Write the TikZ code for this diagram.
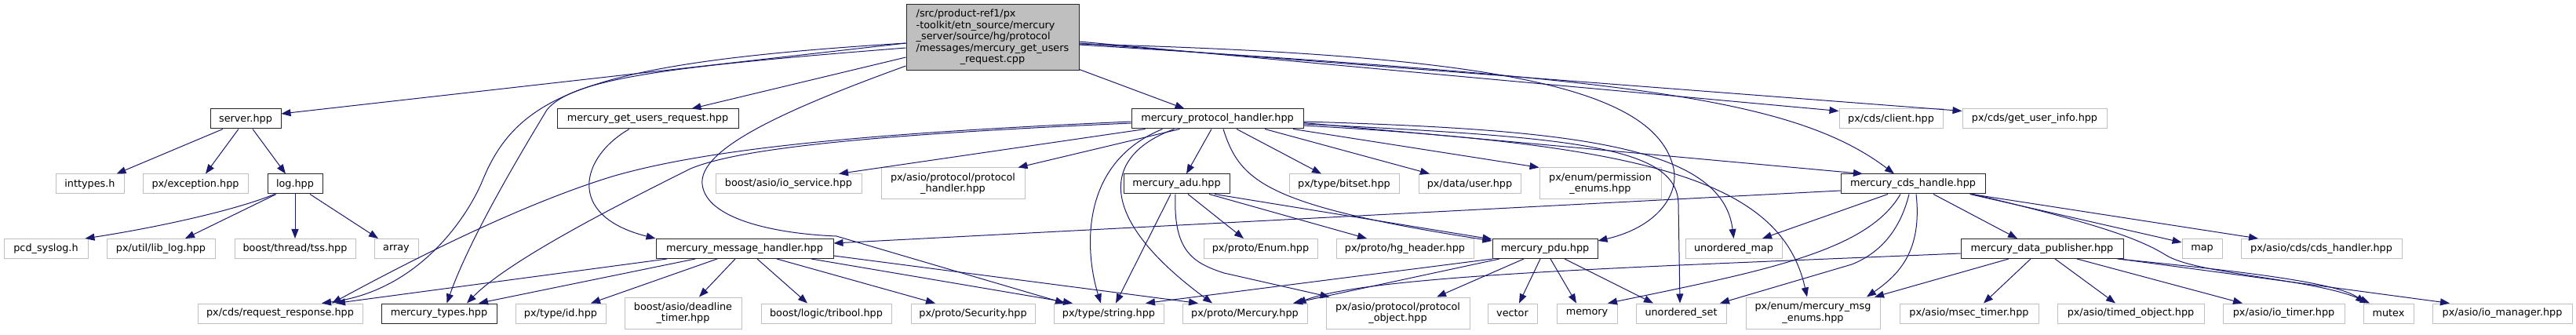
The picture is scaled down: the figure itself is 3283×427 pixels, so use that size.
\documentclass[tikz,border=0pt]{standalone}
\usepackage{fontspec}
\setmainfont{DejaVu Sans}
\usetikzlibrary{arrows.meta}
\definecolor{edgeblue}{HTML}{191970}
\definecolor{extgray}{HTML}{BFBFBF}
\definecolor{maingray}{HTML}{BFBFBF}
\newcommand\nodefont{\fontsize{12.8}{14.5}\selectfont}
\begin{document}
\begin{tikzpicture}[x=1pt,y=-1pt,
  nbase/.style={rectangle, inner sep=0pt, font=\nodefont, text=black, fill=white, minimum height=25pt},
  nex/.style={nbase, draw=extgray, line width=1pt},
  nex2/.style={nex, minimum height=40pt, align=center},
  ndoc/.style={nbase, draw=black!85, line width=1pt},
  dep/.style={draw=edgeblue, line width=1pt, -{Triangle[length=12pt,width=9pt]}}]
\useasboundingbox (0,0) rectangle (3283,427);
% main
\node[draw=black!85, line width=1pt, fill=maingray, minimum width=220pt, minimum height=84pt, inner sep=0pt, font=\nodefont] (M) at (1265,48)
 {\begin{tabular}{@{}l@{}}/src/product-ref1/px\\-toolkit/etn\_source/mercury\\\_server/source/hg/protocol\\/messages/mercury\_get\_users\\\multicolumn{1}{@{}c@{}}{\_request.cpp}\end{tabular}};
% row 1
\node[ndoc, minimum width=90pt] (S) at (313,151.5) {server.hpp};
\node[ndoc, minimum width=231pt] (GUR) at (825.5,151.5) {mercury\_get\_users\_request.hpp};
\node[ndoc, minimum width=219pt] (PH) at (1551.5,151.5) {mercury\_protocol\_handler.hpp};
\node[nex, minimum width=132pt] (CL) at (2410,151.5) {px/cds/client.hpp};
\node[nex, minimum width=184pt] (GUI) at (2593,151.5) {px/cds/get\_user\_info.hpp};
% row 2
\node[nex, minimum width=87pt] (IT) at (114.5,234.5) {inttypes.h};
\node[nex, minimum width=134pt] (EX) at (249,234.5) {px/exception.hpp};
\node[ndoc, minimum width=70pt] (LOG) at (376,234.5) {log.hpp};
\node[nex, minimum width=186pt] (IOS) at (1005,234.5) {boost/asio/io\_service.hpp};
\node[nex2, minimum width=183pt] (APH) at (1214.5,234) {px/asio/protocol/protocol\\\_handler.hpp};
\node[ndoc, minimum width=135pt] (ADU) at (1499.5,234.5) {mercury\_adu.hpp};
\node[nex, minimum width=140pt] (BIT) at (1713,234.5) {px/type/bitset.hpp};
\node[nex, minimum width=130pt] (USR) at (1873,234.5) {px/data/user.hpp};
\node[nex2, minimum width=155pt] (PERM) at (2039.5,234) {px/enum/permission\\\_enums.hpp};
\node[ndoc, minimum width=184pt] (CDS) at (2438,234.5) {mercury\_cds\_handle.hpp};
% row 3
\node[nex, minimum width=107pt] (SYS) at (58.5,317) {pcd\_syslog.h};
\node[nex, minimum width=138pt] (LIB) at (205,317) {px/util/lib\_log.hpp};
\node[nex, minimum width=154pt] (TSS) at (376,317) {boost/thread/tss.hpp};
\node[nex, minimum width=56pt] (ARR) at (505,317) {array};
\node[ndoc, minimum width=226pt] (MH) at (949,317) {mercury\_message\_handler.hpp};
\node[nex, minimum width=145pt] (ENUM) at (1606.5,317) {px/proto/Enum.hpp};
\node[nex, minimum width=175pt] (HG) at (1790.5,317) {px/proto/hg\_header.hpp};
\node[ndoc, minimum width=134pt] (PDU) at (1969,317) {mercury\_pdu.hpp};
\node[nex, minimum width=123pt] (UMAP) at (2209.5,317) {unordered\_map};
\node[ndoc, minimum width=207pt] (DP) at (2602.5,317) {mercury\_data\_publisher.hpp};
\node[nex, minimum width=51pt] (MAP) at (2806.5,317) {map};
\node[nex, minimum width=205pt] (CDSH) at (2958.5,317) {px/asio/cds/cds\_handler.hpp};
% row 4
\node[nex, minimum width=210pt] (RR) at (357,399.5) {px/cds/request\_response.hpp};
\node[ndoc, minimum width=147pt] (TYP) at (559.5,399.5) {mercury\_types.hpp};
\node[nex, minimum width=115pt] (ID) at (714.5,399.5) {px/type/id.hpp};
\node[nex2, minimum width=149pt] (DT) at (870.5,399) {boost/asio/deadline\\\_timer.hpp};
\node[nex, minimum width=166pt] (TRI) at (1053,399.5) {boost/logic/tribool.hpp};
\node[nex, minimum width=158pt] (SEC) at (1240,399.5) {px/proto/Security.hpp};
\node[nex, minimum width=140pt] (STR) at (1413,399.5) {px/type/string.hpp};
\node[nex, minimum width=159pt] (MER) at (1586.5,399.5) {px/proto/Mercury.hpp};
\node[nex2, minimum width=183pt] (PO) at (1781.5,399) {px/asio/protocol/protocol\\\_object.hpp};
\node[nex, minimum width=63pt] (VEC) at (1927.5,399.5) {vector};
\node[nex, minimum width=77pt] (MEM) at (2022.5,399.5) {memory};
\node[nex, minimum width=115pt] (USET) at (2142.5,399.5) {unordered\_set};
\node[nex2, minimum width=171pt] (MSG) at (2310.5,399) {px/enum/mercury\_msg\\\_enums.hpp};
\node[nex, minimum width=177pt] (MSEC) at (2509.5,399.5) {px/asio/msec\_timer.hpp};
\node[nex, minimum width=187pt] (TO) at (2715.5,399.5) {px/asio/timed\_object.hpp};
\node[nex, minimum width=155pt] (IOT) at (2910.5,399.5) {px/asio/io\_timer.hpp};
\node[nex, minimum width=64pt] (MUT) at (3044,399.5) {mutex};
\node[nex, minimum width=178pt] (IOM) at (3189,399.5) {px/asio/io\_manager.hpp};

% server.hpp
\draw[dep] ([xshift=-29pt]S.south) -- ([xshift=34pt]IT.north);
\draw[dep] ([xshift=-9pt]S.south) -- ([xshift=13pt]EX.north);
\draw[dep] ([xshift=9pt]S.south) -- ([xshift=-12pt]LOG.north);
% log.hpp
\draw[dep] ([xshift=-26pt]LOG.south) .. controls (300,268) and (200,290) .. ([xshift=50pt]SYS.north);
\draw[dep] ([xshift=-24pt]LOG.south) -- ([xshift=31pt]LIB.north);
\draw[dep] (LOG.south) -- (TSS.north);
\draw[dep] ([xshift=19pt]LOG.south) -- ([xshift=-23pt]ARR.north);
% main file
\draw[dep] ([yshift=-7pt]M.west) -- ([yshift=6.5pt]S.east);
\draw[dep] ([yshift=-25pt]M.west) -- ([xshift=56pt]GUR.north);
\draw[dep] ([yshift=-7pt]M.west) .. controls (750,80) and (660,120) .. (615,230) .. controls (600,267) and (540,370) .. ([xshift=53pt]RR.north);
\draw[dep] ([yshift=-13pt]M.west) .. controls (850,85) and (730,100) .. (697,140) .. controls (670,185) and (600,300) .. ([xshift=10pt]TYP.north);
\draw[dep] ([yshift=-36pt]M.west) .. controls (1000,140) and (890,190) .. (895,235) .. controls (900,280) and (990,298) .. (1066,301) -- ([xshift=-56pt]STR.north);
\draw[dep] ([yshift=2pt]M.south east) -- ([xshift=-42pt]PH.north);
\draw[dep] ([yshift=-5pt]M.east) -- ([yshift=10pt]CL.west);
\draw[dep] ([yshift=-7pt]M.east) -- ([yshift=10pt]GUI.west);
\draw[dep] ([yshift=-9pt]M.east) .. controls (2050,100) and (2280,120) .. ([xshift=-24pt]CDS.north);
\draw[dep] ([yshift=-8pt]M.east) .. controls (1900,70) and (2110,110) .. (2133,215) .. controls (2140,250) and (2110,290) .. ([yshift=10pt]PDU.east);
% mercury_get_users_request.hpp
\draw[dep] ([xshift=-23.5pt]GUR.south) .. controls (740,200) and (720,275) .. (MH.north west);
% mercury_protocol_handler.hpp
\draw[dep] ([yshift=-3.5pt]PH.west) .. controls (1100,170) and (900,190) .. (780,225) .. controls (650,265) and (500,345) .. ([xshift=66pt]RR.north);
\draw[dep] ([yshift=-5.5pt]PH.west) .. controls (1100,172) and (940,190) .. (880,215) .. controls (800,255) and (650,330) .. ([xshift=35.5pt]TYP.north);
\draw[dep] ([xshift=-92pt]PH.south) -- ([xshift=64pt]IOS.north);
\draw[dep] ([xshift=-48pt]PH.south) -- ([xshift=83pt]APH.north);
\draw[dep] ([xshift=-70pt]PH.south) .. controls (1370,210) and (1385,330) .. ([xshift=-10pt]STR.north);
\draw[dep] ([xshift=-55pt]PH.south) .. controls (1400,200) and (1400,280) .. ([xshift=-41.5pt]MER.north);
\draw[dep] ([xshift=-7.5pt]PH.south) -- ([xshift=12.5pt]ADU.north);
\draw[dep] ([xshift=7.5pt]PH.south) .. controls (1580,230) and (1610,262) .. ([yshift=-3pt]PDU.north west);
\draw[dep] ([xshift=24.5pt]PH.south) -- ([xshift=-29pt]BIT.north);
\draw[dep] ([xshift=60.5pt]PH.south) -- ([xshift=-51pt]USR.north);
\draw[dep] ([xshift=96.5pt]PH.south) -- (PERM.north west);
\draw[dep] ([yshift=-3.5pt]PH.east) .. controls (2000,165) and (2195,185) .. (UMAP.north);
\draw[dep] ([yshift=-6.5pt]PH.east) .. controls (2000,175) and (2138,185) .. (2139,260) -- ([xshift=-1.5pt]USET.north);
\draw[dep] ([yshift=-8.5pt]PH.east) .. controls (2100,185) and (2270,230) .. ([xshift=-7.5pt]MSG.north);
\draw[dep] ([yshift=-5pt]PH.east) -- ([xshift=-64pt]CDS.north);
% mercury_adu.hpp
\draw[dep] ([xshift=-7.5pt]ADU.south) -- ([xshift=9pt]STR.north);
\draw[dep] ([xshift=-1.5pt]ADU.south) .. controls (1495,320) and (1520,335) .. (1560,348) -- ([xshift=5pt]PO.north west);
\draw[dep] ([xshift=14.5pt]ADU.south) -- ([xshift=-21.5pt]ENUM.north);
\draw[dep] ([xshift=41.5pt]ADU.south) -- ([xshift=-48.5pt]HG.north);
\draw[dep] ([xshift=48.5pt]ADU.south) -- ([yshift=-1pt]PDU.north west);
% mercury_pdu.hpp
\draw[dep] ([xshift=-67pt]PDU.south) -- ([xshift=47pt]STR.north);
\draw[dep] ([xshift=-58pt]PDU.south) -- ([xshift=61.5pt]MER.north);
\draw[dep] ([xshift=-27pt]PDU.south) -- ([xshift=49.5pt]PO.north);
\draw[dep] ([xshift=-6pt]PDU.south) -- ([xshift=8.5pt]VEC.north);
\draw[dep] ([xshift=7pt]PDU.south) -- ([xshift=-13.5pt]MEM.north);
\draw[dep] ([xshift=25pt]PDU.south) -- ([xshift=-35.5pt]USET.north);
% mercury_message_handler.hpp
\draw[dep] ([xshift=-99pt]MH.south) -- ([xshift=71pt]RR.north);
\draw[dep] ([xshift=-63pt]MH.south) -- ([xshift=50.5pt]TYP.north);
\draw[dep] ([xshift=-35pt]MH.south) -- ([xshift=38.5pt]ID.north);
\draw[dep] ([xshift=-12pt]MH.south) -- ([xshift=20.5pt]DT.north);
\draw[dep] ([xshift=16pt]MH.south) -- ([xshift=-24pt]TRI.north);
\draw[dep] ([xshift=41pt]MH.south) -- ([xshift=-48pt]SEC.north);
\draw[dep] ([xshift=85pt]MH.south) -- ([xshift=-46pt]STR.north);
\draw[dep] ([yshift=-9pt]MH.east) -- ([xshift=-59.5pt]MER.north);
% mercury_cds_handle.hpp
\draw[dep] ([yshift=-8.5pt]CDS.west) -- ([yshift=7pt]MH.east);
\draw[dep] ([xshift=-32pt]CDS.south) -- ([xshift=36.5pt]UMAP.north);
\draw[dep] ([xshift=-16pt]CDS.south) .. controls (2380,320) and (2250,345) .. ([xshift=26.5pt]MEM.north);
\draw[dep] ([xshift=-5pt]CDS.south) .. controls (2420,300) and (2390,325) .. (2360,337) -- ([xshift=49.5pt]USET.north);
\draw[dep] ([xshift=4pt]CDS.south) .. controls (2450,320) and (2420,350) .. ([xshift=68.5pt]MSG.north);
\draw[dep] ([xshift=26pt]CDS.south) -- ([xshift=-31.5pt]DP.north);
\draw[dep] ([xshift=-20pt]CDS.south east) -- ([yshift=8pt]MAP.west);
\draw[dep] ([xshift=-18pt]CDS.south east) -- ([xshift=-80.5pt]CDSH.north);
\draw[dep] ([xshift=-16pt]CDS.south east) .. controls (2650,280) and (2720,300) .. (2760,325) .. controls (2800,350) and (2950,355) .. ([xshift=-24pt]MUT.north);
% mercury_data_publisher.hpp
\draw[dep] ([yshift=-6pt]DP.west) .. controls (2100,340) and (1750,350) .. ([xshift=66pt]MER.north);
\draw[dep] ([xshift=-42.5pt]DP.south) -- ([xshift=78.5pt]MSG.north);
\draw[dep] ([xshift=-14.5pt]DP.south) -- ([xshift=18.5pt]MSEC.north);
\draw[dep] ([xshift=16.5pt]DP.south) -- ([xshift=-19.5pt]TO.north);
\draw[dep] ([xshift=44.5pt]DP.south) -- ([xshift=-52.5pt]IOT.north);
\draw[dep] ([xshift=-6pt]DP.south east) -- ([xshift=-67pt]IOM.north);
\draw[dep] ([xshift=-8pt]DP.south east) .. controls (2850,345) and (2980,360) .. ([xshift=-30pt]MUT.north);
\end{tikzpicture}
\end{document}
